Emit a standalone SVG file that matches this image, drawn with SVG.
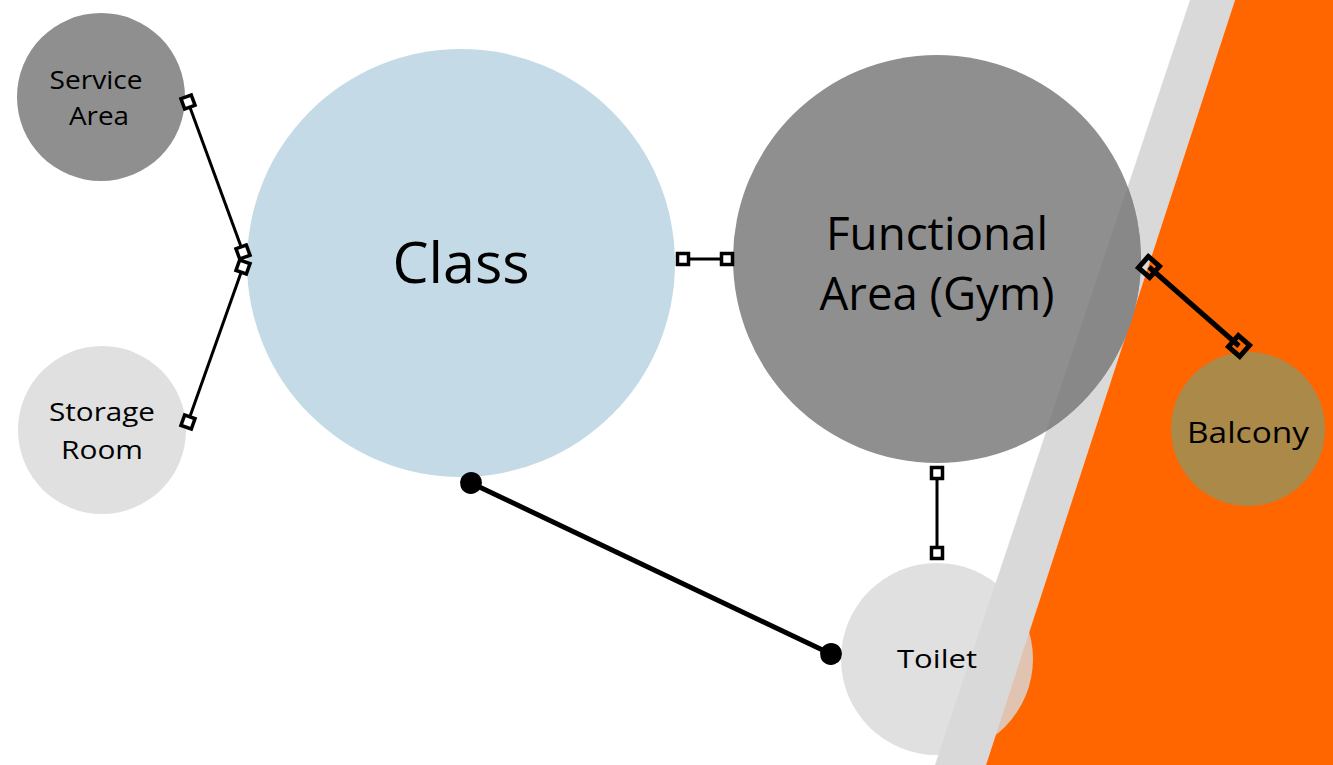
<svg xmlns="http://www.w3.org/2000/svg" width="1333" height="765" viewBox="0 0 1333 765">
<style>
.lbl{font-family:"Open Sans","Liberation Sans",sans-serif;fill:#000;text-anchor:middle}
.con{stroke:#000;fill:none}
</style>
<defs>
<marker id="sq" viewBox="-10 -10 20 20" markerWidth="20" markerHeight="20" markerUnits="userSpaceOnUse" orient="auto" refX="0" refY="0">
<rect x="-5.5" y="-5.5" width="11" height="11" fill="#fff" stroke="#000" stroke-width="3.5"/>
</marker>
<marker id="dm" viewBox="-14 -14 28 28" markerWidth="28" markerHeight="28" markerUnits="userSpaceOnUse" orient="auto" refX="0" refY="0">
<rect x="-7.5" y="-7.5" width="15" height="15" fill="none" stroke="#000" stroke-width="5"/>
</marker>
<marker id="dot" viewBox="-12 -12 24 24" markerWidth="24" markerHeight="24" markerUnits="userSpaceOnUse" orient="auto" refX="0" refY="0">
<circle r="11" fill="#000"/>
</marker>
<clipPath id="rightzone"><polygon points="1190,0 1333,0 1333,765 935,765"/></clipPath>
</defs>
<rect width="1333" height="765" fill="#fff"/>
<g id="background">
<polygon points="1190,0 1235,0 986,765 935,765" fill="#d9d9d9"/>
<polygon points="1235,0 1333,0 1333,765 986,765" fill="#ff6600"/>
</g>
<g id="node-service">
<circle cx="101" cy="97" r="84" fill="#8f8f8f"/>
<text class="lbl" x="96" y="89" font-size="26" textLength="93" lengthAdjust="spacingAndGlyphs">Service</text>
<text class="lbl" x="99" y="125" font-size="26" textLength="60" lengthAdjust="spacingAndGlyphs">Area</text>
</g>
<g id="node-storage">
<circle cx="102" cy="430" r="84" fill="#e0e0e0"/>
<text class="lbl" x="102" y="421" font-size="26" textLength="106" lengthAdjust="spacingAndGlyphs">Storage</text>
<text class="lbl" x="102" y="459" font-size="26" textLength="82" lengthAdjust="spacingAndGlyphs">Room</text>
</g>
<g id="node-class">
<circle cx="461" cy="263" r="214" fill="#c4dae6"/>
<text class="lbl" x="461" y="283" font-size="56" textLength="137" lengthAdjust="spacingAndGlyphs">Class</text>
</g>
<g id="node-functional">
<circle cx="937" cy="259" r="204" fill="#8f8f8f"/>
<circle cx="937" cy="259" r="204" fill="#888888" clip-path="url(#rightzone)"/>
<text class="lbl" x="937" y="250" font-size="45" textLength="222" lengthAdjust="spacingAndGlyphs">Functional</text>
<text class="lbl" x="937" y="310" font-size="45" textLength="235" lengthAdjust="spacingAndGlyphs">Area (Gym)</text>
</g>
<g id="node-toilet">
<circle cx="937" cy="659" r="96" fill="#d9d9d9" fill-opacity="0.81"/>
<text class="lbl" x="937" y="668" font-size="26" textLength="80" lengthAdjust="spacingAndGlyphs">Toilet</text>
</g>
<g id="node-balcony">
<circle cx="1248" cy="429" r="77" fill="#aa8949"/>
<text class="lbl" x="1248" y="443" font-size="30" textLength="122" lengthAdjust="spacingAndGlyphs">Balcony</text>
</g>
<g id="connectors">
<line class="con" x1="188" y1="102" x2="243" y2="252" stroke-width="3" marker-start="url(#sq)" marker-end="url(#sq)"/>
<line class="con" x1="188" y1="422" x2="243" y2="267" stroke-width="3" marker-start="url(#sq)" marker-end="url(#sq)"/>
<line class="con" x1="683" y1="259" x2="727" y2="259" stroke-width="3" marker-start="url(#sq)" marker-end="url(#sq)"/>
<line class="con" x1="937" y1="473" x2="937" y2="553" stroke-width="3" marker-start="url(#sq)" marker-end="url(#sq)"/>
<line class="con" x1="1149" y1="267" x2="1239" y2="346" stroke-width="5" marker-start="url(#dm)" marker-end="url(#dm)"/>
<line class="con" x1="471" y1="483" x2="831" y2="654" stroke-width="5" marker-start="url(#dot)" marker-end="url(#dot)"/>
</g>
</svg>
